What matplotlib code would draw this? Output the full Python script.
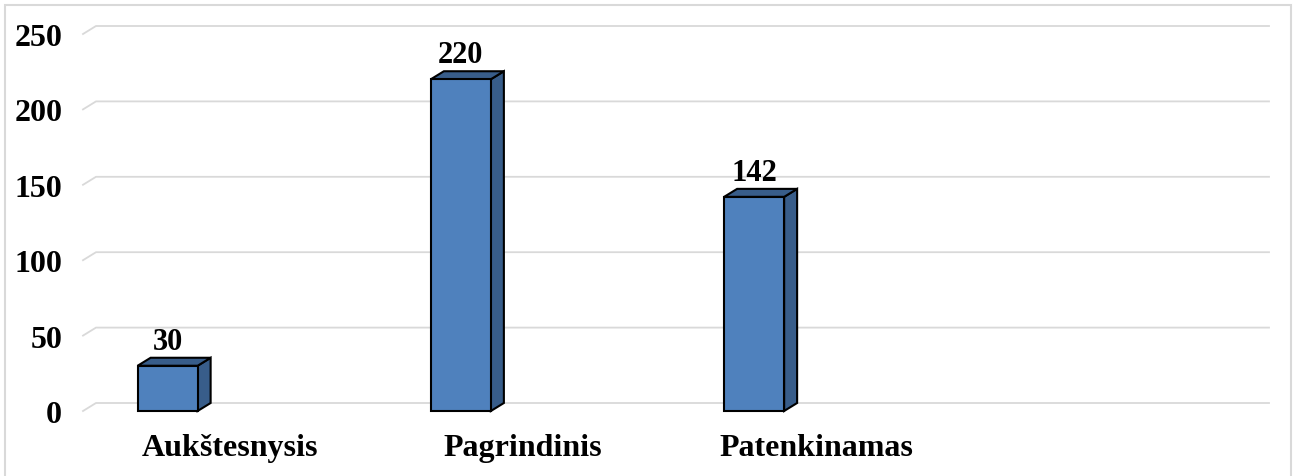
import matplotlib
matplotlib.use("Agg")
import matplotlib.pyplot as plt
from matplotlib.patches import Rectangle, Polygon

# data
categories = ["Aukštesnysis", "Pagrindinis", "Patenkinamas", ""]
values = [30, 220, 142]
yticks = [0, 50, 100, 150, 200, 250]

plt.rcParams['font.family'] = ['Liberation Serif', 'DejaVu Serif']
plt.rcParams['font.weight'] = 'bold'

fig = plt.figure(figsize=(12.96, 4.77), dpi=100)
ax = fig.add_axes([83/1296, 65/477, 1173/1296, 377/477])
ax.set_xlim(-0.5, len(categories) - 0.5)
ax.set_ylim(0, 250)
for s in ax.spines.values():
    s.set_visible(False)
ax.patch.set_alpha(0)

# depth of the fake 3d in data units (from pixel offsets)
px_x = 1173 / len(categories)
px_y = 377 / 250
ddx = 13 / px_x
ddy = 8 / px_y

# back wall grid lines
x0, x1 = ax.get_xlim()
for v in yticks:
    ax.plot([x0, x0 + ddx, x1 + ddx], [v, v + ddy, v + ddy],
            color='#d9d9d9', lw=1.3, clip_on=False, zorder=1)

bar_w = 60 / px_x
shift = -62 / px_x
front = '#4f81bd'
dark = '#385d8a'
for i, v in enumerate(values):
    xl = i + shift - bar_w / 2
    xr = xl + bar_w
    ax.add_patch(Polygon([(xr, 0), (xr + ddx, ddy), (xr + ddx, v + ddy), (xr, v)],
                         closed=True, fc=dark, ec='black', lw=1.5, zorder=3, clip_on=False))
    ax.add_patch(Polygon([(xl, v), (xr, v), (xr + ddx, v + ddy), (xl + ddx, v + ddy)],
                         closed=True, fc=dark, ec='black', lw=1.5, zorder=3, clip_on=False))
    ax.add_patch(Rectangle((xl, 0), bar_w, v, fc=front, ec='black', lw=1.5,
                           zorder=4, clip_on=False))
    ax.annotate(str(v), xy=(i + shift, v), xytext=(0, 17 * 0.72),
                textcoords='offset points', ha='center', va='baseline',
                fontsize=22, fontweight='bold')

ax.set_yticks(yticks)
ax.set_yticklabels([str(t) for t in yticks], fontsize=23, fontweight='bold')
ax.set_xticks(range(len(categories)))
ax.set_xticklabels(categories, fontsize=23, fontweight='bold')
ax.tick_params(axis='y', length=0, pad=15)
ax.tick_params(axis='x', length=0, pad=16)

# outer chart border
fig.add_artist(Rectangle((5/1296, -0.05), 1286/1296, 1.05 - 6/477,
                         transform=fig.transFigure, fill=False,
                         ec='#d9d9d9', lw=1.5))

fig.savefig('out.png', dpi=100)
